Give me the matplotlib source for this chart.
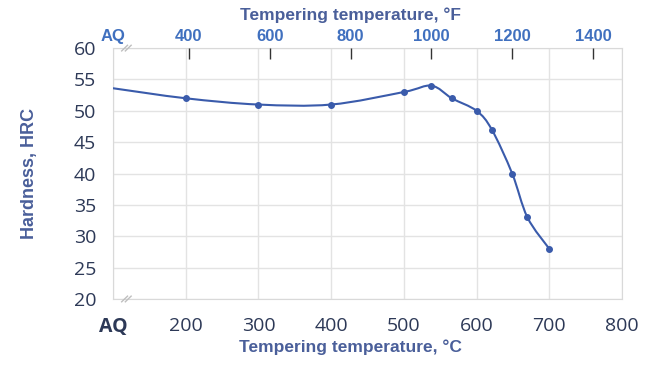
import numpy as np
import matplotlib.pyplot as plt
from matplotlib.path import Path
from matplotlib.patches import PathPatch

# tempering temperature (C), AQ drawn at 100
temp_c = [100, 200, 300, 400, 500, 538, 566, 600, 621, 649, 670, 700]
hrc = [53.6, 52, 51, 51, 53, 54, 52, 50, 47, 40, 33, 28]

c_ticks = [100, 200, 300, 400, 500, 600, 700, 800]
c_labels = ['AQ', '200', '300', '400', '500', '600', '700', '800']
f_ticks = [400, 600, 800, 1000, 1200, 1400]
f_labels = ['400', '600', '800', '1000', '1200', '1400']

line_col = '#3a5bab'
title_col = '#4a5f9a'
top_col = '#4070bf'
tick_col = '#2d3957'

fig = plt.figure(figsize=(6.53, 3.70), dpi=100)
ax = fig.add_axes([0.173, 0.192, 0.7795, 0.678])
ax.set_xlim(100, 800)
ax.set_ylim(20, 60)

# smooth line (excel style bezier through the points)
pts = np.column_stack([temp_c, hrc]).astype(float)
verts = [pts[0]]
codes = [Path.MOVETO]
for i in range(len(pts) - 1):
    p0 = pts[i - 1] if i > 0 else pts[i]
    p1, p2 = pts[i], pts[i + 1]
    p3 = pts[i + 2] if i + 2 < len(pts) else pts[i + 1]
    verts += [p1 + (p2 - p0) / 6, p2 - (p3 - p1) / 6, p2]
    codes += [Path.CURVE4] * 3
ax.add_patch(PathPatch(Path(verts, codes), fill=False, ec=line_col, lw=1.5, zorder=3))
ax.plot(temp_c[1:], hrc[1:], 'o', color=line_col, ms=4, zorder=4)

ax.set_xticks(c_ticks)
ax.set_xticklabels(c_labels)
ax.set_yticks(range(20, 61, 5))
ax.grid(True, color='#e3e3e3', lw=1)
ax.set_axisbelow(True)
for s in ax.spines.values():
    s.set_color('#d9d9d9')
ax.tick_params(axis='x', length=0, pad=13, labelsize=14, labelcolor=tick_col)
ax.tick_params(axis='y', length=0, pad=12, labelsize=14, labelcolor=tick_col)
for lab in ax.get_xticklabels() + ax.get_yticklabels():
    lab.set_family('Open Sans')
ax.get_xticklabels()[0].set_fontweight('bold')
ax.set_xlabel('Tempering temperature, °C', fontsize=12.5, fontweight='bold',
              color=title_col, family='Liberation Sans', labelpad=4)
ax.xaxis.set_label_coords(0.467, -0.16)
ax.set_ylabel('Hardness, HRC', fontsize=13, fontweight='bold',
              color=title_col, family='Liberation Sans', labelpad=26)

# top axis in F
ax2 = ax.twiny()
ax2.set_xlim(ax.get_xlim())
ax2.set_xticks([(f - 32) * 5 / 9 for f in f_ticks])
ax2.set_xticklabels([])
ax2.tick_params(direction='in', length=8, width=1, color='#333333')
for s in ax2.spines.values():
    s.set_visible(False)
ax.text(100, 60.6, 'AQ', ha='center', va='bottom', fontsize=12, fontweight='bold',
        color=top_col, family='Liberation Sans', clip_on=False)
for f, lab in zip(f_ticks, f_labels):
    ax.text((f - 32) * 5 / 9, 60.6, lab, ha='center', va='bottom', fontsize=12,
            fontweight='bold', color=top_col, family='Liberation Sans', clip_on=False)
fig.text(0.5375, 0.960, 'Tempering temperature, °F', ha='center', va='center',
         fontsize=12.5, fontweight='bold', color=title_col, family='Liberation Sans')

# axis break marks
for yb in (20, 60):
    for dx in (0, 5):
        ax.plot([112 + dx, 120 + dx], [yb - 0.45, yb + 0.45], color='#bfbfbf',
                lw=1, clip_on=False, zorder=5)

plt.savefig('out.png', dpi=100)
